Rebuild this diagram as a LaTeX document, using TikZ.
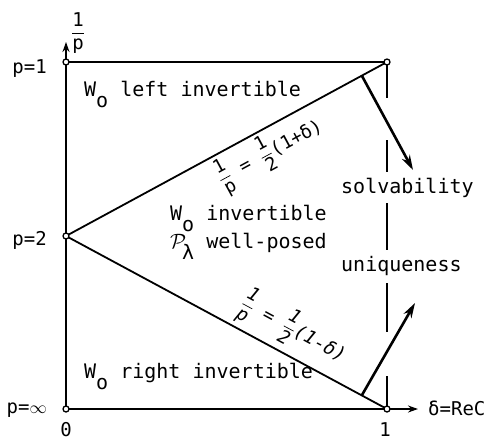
\documentclass[tikz,border=0pt]{standalone}
\usepackage{fontspec}
\usepackage{amsmath}
\setmainfont{DejaVu Sans Mono}
\usetikzlibrary{arrows.meta}
\newcommand\Wo{W\raisebox{-11pt}{o}}
\newcommand\fr[2]{$\dfrac{\text{#1}}{\text{#2}}$}
\tikzset{
  txt/.style={font=\fontsize{20}{24}\selectfont, inner sep=0pt},
  lbl/.style={font=\fontsize{19}{22}\selectfont, inner sep=0pt},
  eqn/.style={font=\fontsize{18.5}{22}\selectfont, inner sep=1pt},
  main/.style={line width=1.8pt},
  bigarrow/.style={line width=2.6pt, -{Stealth[length=15pt,width=9pt]}},
  axarrow/.style={line width=1.8pt, -{Stealth[length=10pt,width=7pt]}},
  pt/.style={circle, draw, fill=white, inner sep=0pt, minimum size=6pt, line width=1.3pt}
}
\begin{document}
\begin{tikzpicture}[x=1pt,y=-1pt]
\useasboundingbox (0,0) rectangle (493,440);
% key points
\coordinate (O) at (66,409);
\coordinate (A) at (66,62);
\coordinate (B) at (66,236);
\coordinate (C) at (387,62);
\coordinate (D) at (387,409);
\coordinate (ytip) at (66,42);
\coordinate (xtip) at (418,409);
\coordinate (s0) at (362,76);
\coordinate (s1) at (413,170);
\coordinate (u0) at (362,395);
\coordinate (u1) at (415,303);
% region texts
\node[txt, anchor=base west] (tl) at (84,96) {\Wo{} left invertible};
\node[txt, anchor=base west] (tm1) at (170,220) {\Wo{} invertible};
\node[txt, anchor=base west] (tm2) at (170,248) {\makebox[0.602em][l]{$\mathcal{P}$}\raisebox{-11pt}{λ} well-posed};
\node[txt, anchor=base west] (tb) at (84,378) {\Wo{} right invertible};
% right dashed line
\draw[main] (387,62) -- (387,98);
\draw[main] (387,140) -- (387,172);
\draw[main] (387,203) -- (387,250);
\draw[main] (387,283) -- (387,332);
\draw[main] (387,376) -- (D);
% frame and axes
\draw[main] (A) -- (C);
\draw[axarrow] (O) -- (ytip);
\draw[axarrow] (O) -- (xtip);
\draw[main] (B) -- (C);
\draw[main] (B) -- (D);
% labels on diagonals
\path (B) -- (C) node[eqn, pos=0.6, sloped, below=3pt] (e1) {\fr{1}{p} = \fr{1}{2}(1+δ)};
\path (B) -- (D) node[eqn, pos=0.67, sloped, above=3pt, font=\fontsize{18.5}{22}\selectfont\itshape] (e2) {\fr{1}{p} = \fr{1}{2}(1-δ)};
% arrows
\draw[bigarrow] (s0) -- (s1);
\draw[bigarrow] (u0) -- (u1);
\node[txt, anchor=base west, fill=white, inner sep=1pt] (sv) at (340,193) {solvability};
\node[txt, anchor=base west, fill=white, inner sep=1pt] (un) at (340,271) {uniqueness};
% points
\node[pt] (pA) at (A) {};
\node[pt] (pB) at (B) {};
\node[pt] (pO) at (O) {};
\node[pt] (pC) at (C) {};
\node[pt] (pD) at (D) {};
% axis labels
\node[lbl, anchor=base east] (l1) at (47,73) {p=1};
\node[lbl, anchor=base east] (l2) at (47,245) {p=2};
\node[lbl, anchor=base east] (l3) at (47,413) {p=$\infty$};
\node[lbl, anchor=base] (z0) at (66,436) {0};
\node[lbl, anchor=base] (z1) at (385,436) {1};
\node[lbl, anchor=base west] (dl) at (428,415) {δ=ReC};
\node[lbl] (yl) at (78,33) {\fr{1}{p}};
\end{tikzpicture}
\end{document}
